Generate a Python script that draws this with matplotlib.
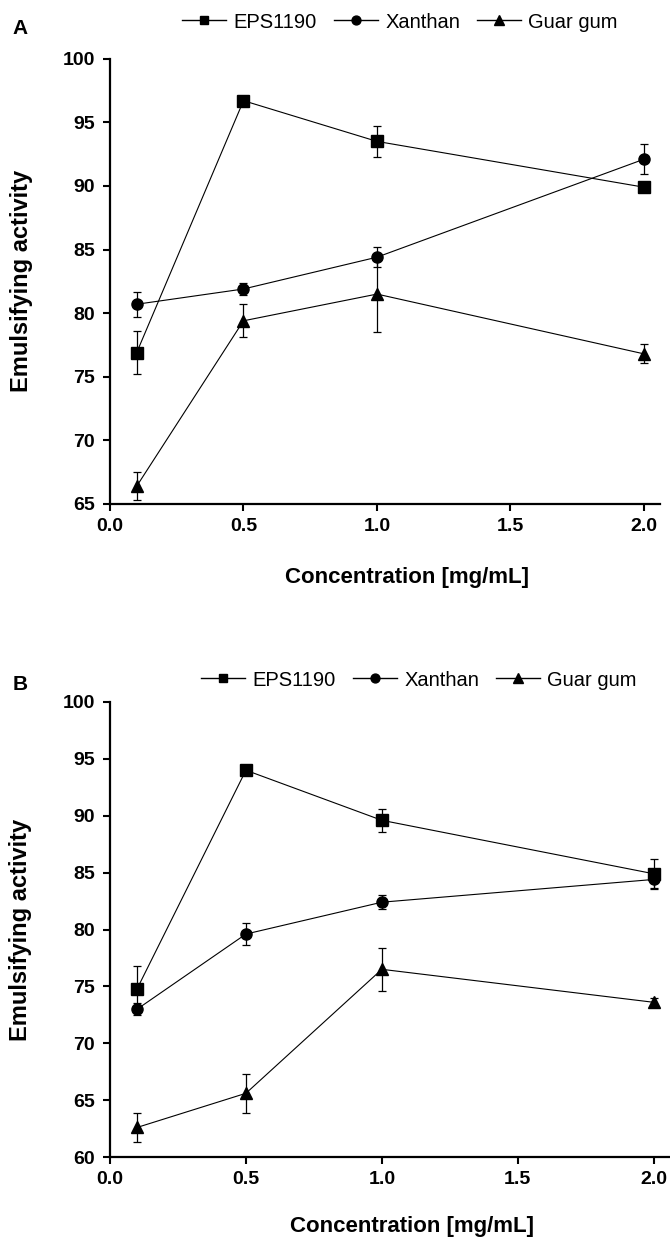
import matplotlib
matplotlib.use("Agg")
import matplotlib.pyplot as plt
from matplotlib.lines import Line2D
import numpy as np

conc = [0.1, 0.5, 1.0, 2.0]
names = ["EPS1190", "Xanthan", "Guar gum"]
markers = ["s", "o", "^"]

# panel A
a_eps = [76.9, 96.7, 93.5, 89.9]
a_eps_err = [1.7, 0.2, 1.2, 0.2]
a_xan = [80.7, 81.9, 84.4, 92.1]
a_xan_err = [1.0, 0.5, 0.8, 1.2]
a_guar = [66.4, 79.4, 81.5, 76.8]
a_guar_err = [1.1, 1.3, 3.0, 0.75]

# panel B
b_eps = [74.8, 94.0, 89.6, 84.9]
b_eps_err = [2.0, 0.2, 1.0, 1.3]
b_xan = [73.0, 79.6, 82.4, 84.4]
b_xan_err = [0.5, 0.95, 0.6, 0.75]
b_guar = [62.6, 65.6, 76.5, 73.6]
b_guar_err = [1.3, 1.7, 1.9, 0.4]

plain = ["Liberation Sans", "DejaVu Sans"]

fig = plt.figure(figsize=(6.7, 12.41), dpi=100)


def panel(rect, series, errs, ylo, letter, letter_y, leg_xy, xlab_y):
    ax = fig.add_axes(rect)
    handles = []
    for vals, err, m, name in zip(series, errs, markers, names):
        ms = 9 if m == "^" else 8
        ax.errorbar(conc, vals, yerr=err, color="black", lw=0.8,
                    elinewidth=0.9, capsize=3, capthick=0.9,
                    marker=m, markersize=ms, zorder=3)
        handles.append(Line2D([], [], color="black", lw=1.0, marker=m,
                              markersize=ms * 0.8, label=name))
    ax.set_xlim(0, 2.06)
    ax.set_ylim(ylo, 100)
    ax.set_xticks(np.arange(0, 2.01, 0.5))
    ax.set_xticklabels(["%.1f" % t for t in np.arange(0, 2.01, 0.5)])
    ax.set_yticks(np.arange(ylo, 101, 5))
    for s in ["top", "right"]:
        ax.spines[s].set_visible(False)
    for s in ["left", "bottom"]:
        ax.spines[s].set_linewidth(1.6)
    ax.tick_params(axis="both", direction="out", length=5, width=1.5)
    ax.tick_params(axis="y", pad=6)
    ax.tick_params(axis="x", pad=5)
    for lab in ax.get_xticklabels() + ax.get_yticklabels():
        lab.set_family(plain)
        lab.set_fontweight("bold")
        lab.set_fontsize(14)
    ax.set_ylabel("Emulsifying activity", family=plain, fontweight="bold",
                  fontsize=17)
    ax.yaxis.set_label_coords(-0.14, 0.5)
    ax.set_xlabel("Concentration [mg/mL]", family=plain, fontweight="bold",
                  fontsize=16)
    ax.xaxis.set_label_coords(0.54, xlab_y)
    fig.legend(handles=handles, loc="center", bbox_to_anchor=leg_xy, ncol=3,
               frameon=False, handlelength=2.2, handletextpad=0.35,
               columnspacing=0.85, borderpad=0,
               prop={"family": plain, "size": 14.5})
    fig.text(20 / 670, 1 - letter_y / 1241, letter, family=plain,
             fontweight="bold", fontsize=15, ha="center", va="center")
    return ax


panel([110 / 670, 737 / 1241, 550 / 670, 445.3 / 1241],
      [a_eps, a_xan, a_guar], [a_eps_err, a_xan_err, a_guar_err],
      65, "A", 28, (400 / 670, 1 - 22 / 1241), -0.1415)
panel([110 / 670, 84 / 1241, 560 / 670, 455 / 1241],
      [b_eps, b_xan, b_guar], [b_eps_err, b_xan_err, b_guar_err],
      60, "B", 685, (419 / 670, 1 - 680 / 1241), -0.13)

fig.savefig("out.png", dpi=100)
